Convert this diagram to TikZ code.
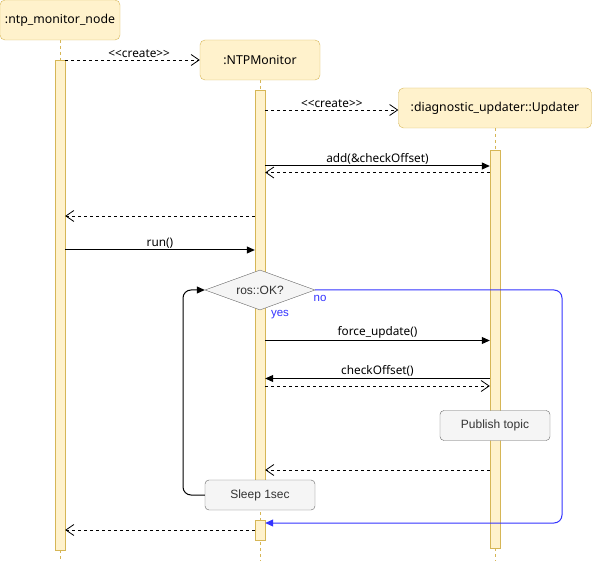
\documentclass[tikz,border=0pt]{standalone}
\usepackage{fontspec}
\setmainfont{Noto Sans}
\newfontfamily\boxfont{Liberation Sans}
\usetikzlibrary{shapes.geometric,arrows.meta}
\definecolor{lifefill}{RGB}{255,242,204}
\definecolor{lifeline}{RGB}{214,182,86}
\definecolor{notefill}{RGB}{245,245,245}
\definecolor{notedraw}{RGB}{102,102,102}
\definecolor{notetext}{RGB}{51,51,51}
\definecolor{nobranch}{RGB}{51,51,255}
\tikzstyle{head}=[draw=lifeline, fill=lifefill, rounded corners=5pt, minimum width=120pt, minimum height=40pt, inner sep=0pt, font=\fontsize{12.3}{14}\selectfont]
\tikzstyle{bar}=[draw=lifeline, fill=lifefill, minimum width=10pt, inner sep=0pt]
\tikzstyle{life}=[draw=lifeline, dash pattern=on 3pt off 3pt]
\tikzstyle{note}=[draw=notedraw, fill=notefill, text=notetext, rounded corners=4pt, minimum width=110pt, minimum height=30pt, inner sep=0pt, font=\boxfont\fontsize{12}{14}\selectfont]
\tikzstyle{cond}=[diamond, aspect=2.75, draw=notedraw, fill=notefill, text=notetext, minimum width=110pt, minimum height=40pt, inner sep=0pt, font=\boxfont\fontsize{12}{14}\selectfont]
\tikzstyle{call}=[-{Triangle[length=8pt,width=7pt]}, line width=1pt]
\tikzstyle{reply}=[-{Straight Barb[length=8pt,width=11pt]}, line width=0.8pt, dash pattern=on 3pt off 3pt]
\tikzstyle{msg}=[above, inner sep=1.5pt, font=\fontsize{11.8}{13}\selectfont]
\tikzstyle{branch}=[text=nobranch, inner sep=0pt, font=\boxfont\fontsize{11.5}{13}\selectfont]

\begin{document}
\begin{tikzpicture}[x=1pt, y=-1pt]
	\useasboundingbox (0,0) rectangle (592,561);
	% lifelines
	 \draw [life] (60,40) -- (60,561);
	 \draw [life] (260,80) -- (260,561);
	 \draw [life] (495,128) -- (495,561);

	% nodes
	 \node [head] (mainnode) at (60,20) {:ntp\_monitor\_node};
	 \node [head] (ntpmon) at (260,60) {:NTPMonitor};
	 \node [head, minimum width=193pt] (updater) at (495,108) {:diagnostic\_updater::Updater};

	 \node [bar, minimum height=490pt] (act1) at (60,305) {};
	 \node [bar, minimum height=410pt] (act2) at (260,295) {};
	 \node [bar, minimum height=20pt] (act2b) at (260,530) {};
	 \node [bar, minimum height=398pt] (act3) at (495,349) {};

	 \node [cond] (okcheck) at (260,290) {ros::OK?};
	 \node [note] (publish) at (495,425.5) {Publish topic};
	 \node [note] (sleep) at (260,495) {Sleep 1sec};

	 \node [branch] (nolabel) at (320,298) {no};
	 \node [branch] (yeslabel) at (280,315) {yes};

	 \coordinate (loopturn) at (183,290);
	 \coordinate (noturn) at (562,523);

	% arrows
	 \draw [reply] (act1.east |- 0,60) -- node [msg, pos=0.55] {<{}<create>{}>} (ntpmon.west |- 0,60);
	 \draw [reply] (act2.east |- 0,110) -- node [msg] {<{}<create>{}>} (updater.west |- 0,110);
	 \draw [call] (act2.east |- 0,166) -- node [msg] {add(\&checkOffset)} (act3.west |- 0,166);
	 \draw [reply] (act3.west |- 0,172.5) -- (act2.east |- 0,172.5);
	 \draw [reply] (act2.west |- 0,216) -- (act1.east |- 0,216);
	 \draw [call] (act1.east |- 0,250) -- node [msg] {run()} (act2.west |- 0,250);

	 \draw [call] (act2.east |- 0,340.5) -- node [msg] {force\_update()} (act3.west |- 0,340.5);
	 \draw [call] (act3.west |- 0,378.5) -- node [msg] {checkOffset()} (act2.east |- 0,378.5);
	 \draw [reply] (act2.east |- 0,386) -- (act3.west |- 0,386);
	 \draw [reply] (act3.west |- 0,470) -- (act2.east |- 0,470);

	 \draw [call, rounded corners=8pt] (sleep.west) -| (loopturn) -- (okcheck.west);
	 \draw [call, nobranch, rounded corners=8pt] (okcheck.east) -| (noturn) -- (act2b.east |- noturn);

	 \draw [reply] (act2b.west |- 0,530) -- (act1.east |- 0,530);
\end{tikzpicture}
\end{document}
